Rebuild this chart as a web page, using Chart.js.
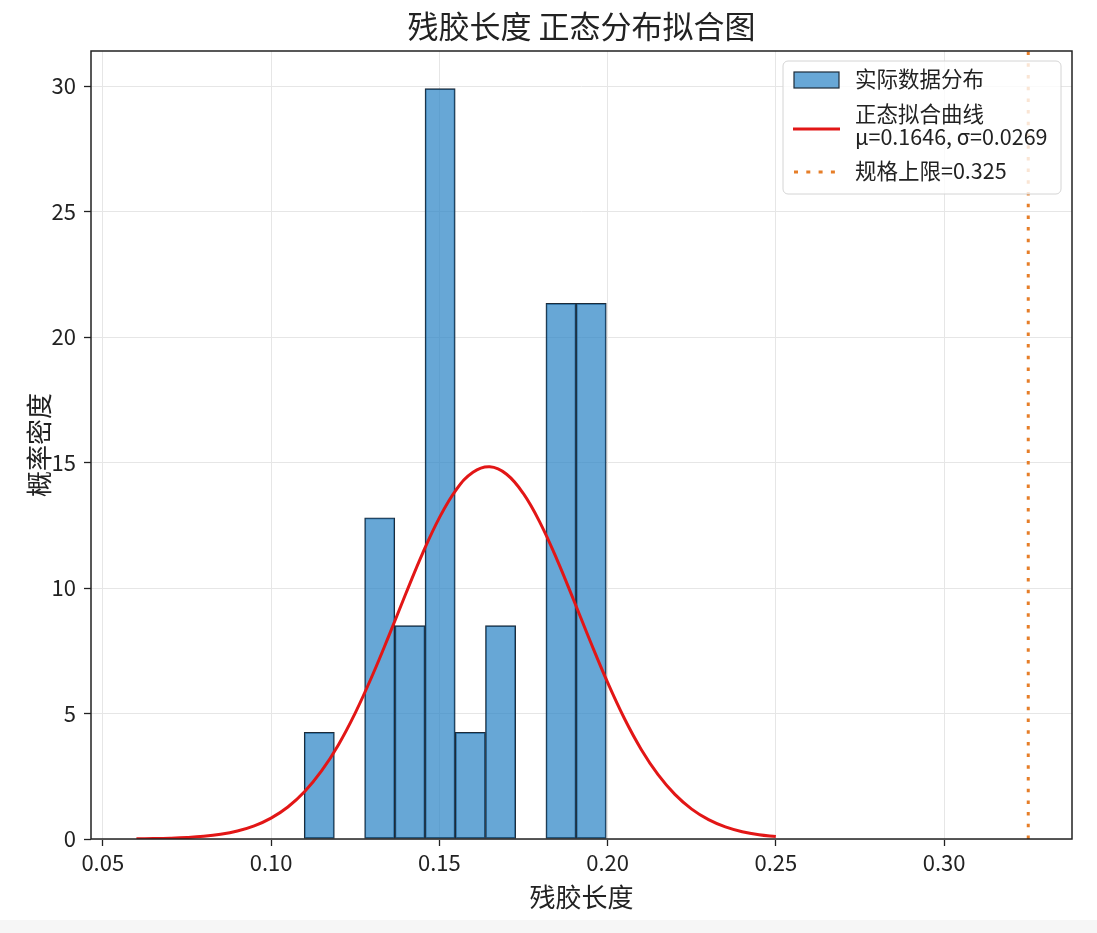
<!DOCTYPE html>
<html>
<head>
<meta charset="utf-8">
<script src="https://cdn.jsdelivr.net/npm/chart.js@4.4.1/dist/chart.umd.min.js"></script>
<style>
  body { margin: 0; background: #f6f6f6; }
  #wrap { width: 1097px; height: 920px; background: #fff; }
</style>
</head>
<body>
<div id="wrap"><canvas id="histChart" width="1097" height="920"></canvas></div>
<script>
// histogram bin centres and density heights
const binCenters = [0.11433, 0.13229, 0.14127, 0.15024, 0.15922, 0.16820, 0.18616, 0.19513];
const binDensity = [4.25, 12.8, 8.5, 29.9, 4.25, 8.5, 21.35, 21.35];

// fitted normal curve
const curveX = [0.060, 0.065, 0.070, 0.075, 0.080, 0.085, 0.090, 0.095, 0.100, 0.105,
                0.110, 0.115, 0.120, 0.125, 0.130, 0.135, 0.140, 0.145, 0.150, 0.155,
                0.160, 0.165, 0.170, 0.175, 0.180, 0.185, 0.190, 0.195, 0.200, 0.205,
                0.210, 0.215, 0.220, 0.225, 0.230, 0.235, 0.240, 0.245, 0.250];
const curveY = [0.008, 0.016, 0.031, 0.058, 0.105, 0.186, 0.317, 0.522, 0.830, 1.274,
                1.891, 2.710, 3.749, 5.017, 6.485, 8.094, 9.761, 11.373, 12.798, 13.915,
                14.615, 14.830, 14.534, 13.760, 12.588, 11.124, 9.496, 7.831, 6.238, 4.800,
                3.569, 2.564, 1.778, 1.192, 0.772, 0.483, 0.292, 0.170, 0.096];

const specLimit = 0.325;
const xTicks = [0.05, 0.10, 0.15, 0.20, 0.25, 0.30];
const yTicks = [0, 5, 10, 15, 20, 25, 30];
const xRange = [0.0465, 0.338];
const yRange = [0, 31.4];

const fontFam = "'Noto Sans CJK SC', 'Noto Sans', sans-serif";
const barFill = 'rgba(38,129,196,0.7)';
const barEdge = 'rgb(28,42,56)';
const curveColor = 'rgb(226,22,22)';
const specColor = 'rgb(230,126,40)';

const frameAndLegend = {
  id: 'frameAndLegend',
  afterDraw(chart) {
    const ctx = chart.ctx;
    const a = chart.chartArea;
    ctx.save();
    ctx.strokeStyle = '#222';
    ctx.lineWidth = 1.5;
    ctx.strokeRect(a.left, a.top, a.right - a.left, a.bottom - a.top);

    // title centred over the plot area
    ctx.fillStyle = '#222';
    ctx.font = '31px ' + fontFam;
    ctx.textAlign = 'center';
    ctx.textBaseline = 'middle';
    ctx.fillText('残胶长度 正态分布拟合图', (a.left + a.right) / 2, 26);

    // legend box
    const bx = 783, by = 61, bw = 278, bh = 133, r = 5;
    ctx.beginPath();
    ctx.moveTo(bx + r, by);
    ctx.arcTo(bx + bw, by, bx + bw, by + bh, r);
    ctx.arcTo(bx + bw, by + bh, bx, by + bh, r);
    ctx.arcTo(bx, by + bh, bx, by, r);
    ctx.arcTo(bx, by, bx + bw, by, r);
    ctx.closePath();
    ctx.fillStyle = 'rgba(255,255,255,0.8)';
    ctx.fill();
    ctx.strokeStyle = '#d4d4d4';
    ctx.lineWidth = 1;
    ctx.stroke();

    // histogram patch
    ctx.fillStyle = barFill;
    ctx.fillRect(794, 72, 45, 16);
    ctx.strokeStyle = barEdge;
    ctx.lineWidth = 1.2;
    ctx.strokeRect(794, 72, 45, 16);

    // curve sample
    ctx.strokeStyle = curveColor;
    ctx.lineWidth = 3;
    ctx.beginPath();
    ctx.moveTo(793, 129);
    ctx.lineTo(840, 129);
    ctx.stroke();

    // spec line sample
    ctx.strokeStyle = specColor;
    ctx.setLineDash([4, 8.3]);
    ctx.beginPath();
    ctx.moveTo(794, 172);
    ctx.lineTo(842, 172);
    ctx.stroke();
    ctx.setLineDash([]);

    ctx.fillStyle = '#222';
    ctx.font = '21.5px ' + fontFam;
    ctx.textAlign = 'left';
    ctx.fillText('实际数据分布', 855, 79);
    ctx.fillText('正态拟合曲线', 855, 114);
    ctx.fillText('μ=0.1646, σ=0.0269', 855, 137);
    ctx.fillText('规格上限=0.325', 855, 171);
    ctx.restore();
  }
};

const ctx = document.getElementById('histChart').getContext('2d');
new Chart(ctx, {
  type: 'bar',
  data: {
    datasets: [
      {
        type: 'bar',
        label: '实际数据分布',
        data: binCenters.map((x, i) => ({ x: x, y: binDensity[i] })),
        backgroundColor: barFill,
        borderColor: barEdge,
        borderWidth: 1.1,
        borderSkipped: false,
        barPercentage: 1,
        categoryPercentage: 1,
        order: 3
      },
      {
        type: 'line',
        label: '正态拟合曲线',
        data: curveX.map((x, i) => ({ x: x, y: curveY[i] })),
        borderColor: curveColor,
        borderWidth: 3,
        pointRadius: 0,
        tension: 0.4,
        fill: false,
        order: 2
      },
      {
        type: 'line',
        label: '规格上限=0.325',
        data: [{ x: specLimit, y: yRange[0] }, { x: specLimit, y: yRange[1] }],
        borderColor: specColor,
        borderWidth: 3,
        borderDash: [3.5, 8.2],
        pointRadius: 0,
        fill: false,
        order: 1
      }
    ]
  },
  options: {
    responsive: false,
    animation: false,
    layout: { padding: { left: 0, right: 25, top: 51, bottom: 0 } },
    plugins: {
      legend: { display: false },
      tooltip: { enabled: false },
      title: { display: false }
    },
    scales: {
      x: {
        type: 'linear',
        min: xRange[0],
        max: xRange[1],
        offset: false,
        afterBuildTicks: s => { s.ticks = xTicks.map(v => ({ value: v })); },
        afterFit: s => { s.height = 81; },
        grid: { color: '#e6e6e6', offset: false, tickColor: '#222', tickLength: 7, tickWidth: 1.3 },
        border: { display: false },
        ticks: {
          color: '#222',
          padding: 3,
          maxRotation: 0,
          font: { family: fontFam, size: 22, lineHeight: 1.2 },
          callback: v => v.toFixed(2)
        },
        title: {
          display: true,
          text: '残胶长度',
          color: '#222',
          font: { family: fontFam, size: 26, lineHeight: 1.2 },
          padding: { top: 7, bottom: 7 }
        }
      },
      y: {
        min: yRange[0],
        max: yRange[1],
        afterBuildTicks: s => { s.ticks = yTicks.map(v => ({ value: v })); },
        afterFit: s => { s.width = 91; },
        grid: { color: '#e6e6e6', tickColor: '#222', tickLength: 7, tickWidth: 1.3 },
        border: { display: false },
        ticks: {
          color: '#222',
          padding: 8,
          font: { family: fontFam, size: 22 }
        },
        title: {
          display: true,
          text: '概率密度',
          color: '#222',
          font: { family: fontFam, size: 26, lineHeight: 1.2 },
          padding: { top: 24, bottom: 8 }
        }
      }
    }
  },
  plugins: [frameAndLegend]
});
</script>
</body>
</html>
